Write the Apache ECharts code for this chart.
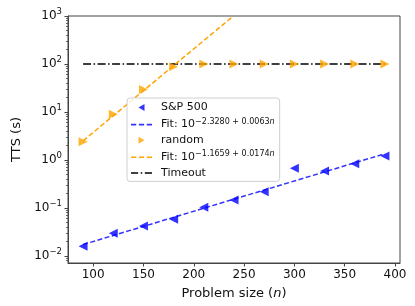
<!DOCTYPE html>
<html>
<head>
<meta charset="utf-8">
<script src="https://cdn.jsdelivr.net/npm/echarts@6/dist/echarts.min.js"></script>
<style>
html,body{margin:0;padding:0;background:#fff;}
#chart{width:415px;height:306px;}
</style>
</head>
<body>
<div id="chart"></div>
<script>
// ---- data ----
const problemSizes = [90, 120, 150, 180, 210, 240, 270, 300, 330, 360, 390];
const sp500TTS = [0.016, 0.0297, 0.042, 0.058, 0.103, 0.147, 0.219, 0.67, 0.59, 0.83, 1.21];
const randomTTS = [2.4, 9.0, 29.5, 88, 100, 100, 100, 100, 100, 100, 100];
const sp500FitN = [90, 390];
const sp500FitTTS = [0.0173, 1.35];
const randomFitN = [90, 239.4];
const randomFitTTS = [2.51, 1000];
const timeoutN = [90, 390];
const timeoutTTS = [100, 100];
const xTicks = [100, 150, 200, 250, 300, 350, 400];
const yTickExps = [-2, -1, 0, 1, 2, 3];
const yMinVal = 0.00714, yMaxVal = 1000;

const lg = v => Math.log10(v);
const pairs = (xs, ys) => xs.map((x, i) => [x, lg(ys[i])]);

const minorTicks = [];
for (let e = -3; e < 3; e++) {
  for (let k = 2; k <= 9; k++) {
    const v = lg(k) + e;
    if (v >= lg(yMinVal) && v <= lg(yMaxVal)) minorTicks.push(v);
  }
}

const supLabel = v => {
  const e = Math.round(v);
  return '10{sup|' + (e < 0 ? '\u2212' + (-e) : e) + '}';
};

const FONT = 'DejaVu Sans';
const AXC = '#444';

// legend handle shapes
const ICON_LEFT_TRI = 'path://M0,3.5L6,0L6,7Z';
const ICON_RIGHT_TRI = 'path://M6,3.5L0,0L0,7Z';
const ICON_DASH = 'path://M0,0h5v1.5h-5z M7.5,0h5v1.5h-5z M15,0h5v1.5h-5z';
const ICON_DASHDOT = 'path://M0,0h7v1.5h-7z M9.5,0h1.5v1.5h-1.5z M13.5,0h7v1.5h-7z';

const chart = echarts.init(document.getElementById('chart'), null, {renderer: 'canvas'});
chart.setOption({
  animation: false,
  backgroundColor: '#fff',
  textStyle: {fontFamily: FONT},
  grid: {left: 68, right: 15, top: 16, bottom: 43, show: true, borderColor: AXC, borderWidth: 1, backgroundColor: 'transparent'},
  xAxis: {
    type: 'value', min: 75, max: 405,
    name: 'Problem size ({i|n})', nameLocation: 'middle', nameGap: 24,
    nameTextStyle: {fontSize: 13, color: '#111', fontFamily: FONT, rich: {i: {fontStyle: 'italic', fontSize: 13, fontFamily: FONT, color: '#111'}}},
    axisLine: {show: true, onZero: false, lineStyle: {color: AXC, width: 1}},
    axisTick: {show: true, inside: false, length: 3.5, lineStyle: {color: AXC}, customValues: xTicks},
    axisLabel: {fontSize: 12, color: '#111', margin: 6, customValues: xTicks, fontFamily: FONT},
    splitLine: {show: false}
  },
  yAxis: [{
    type: 'value', min: lg(yMinVal), max: lg(yMaxVal),
    name: 'TTS (s)', nameLocation: 'middle', nameGap: 40, nameRotate: 90,
    nameTextStyle: {fontSize: 13, color: '#111', fontFamily: FONT},
    axisLine: {show: true, onZero: false, lineStyle: {color: AXC, width: 1}},
    axisTick: {show: true, inside: false, length: 3.5, lineStyle: {color: AXC}, customValues: yTickExps},
    axisLabel: {
      fontSize: 12, color: '#111', margin: 6, customValues: yTickExps, fontFamily: FONT,
      formatter: supLabel,
      rich: {sup: {fontSize: 8.5, color: '#111', fontFamily: FONT, verticalAlign: 'top', padding: [0, 0, 8, 0]}}
    },
    splitLine: {show: false}
  }, {
    type: 'value', min: lg(yMinVal), max: lg(yMaxVal), position: 'left',
    axisLine: {show: false, onZero: false},
    axisTick: {show: true, inside: false, length: 2, lineStyle: {color: AXC, width: 0.8}, customValues: minorTicks},
    axisLabel: {show: false},
    splitLine: {show: false}
  }],
  legend: {
    orient: 'vertical', left: 127, top: 98,
    backgroundColor: 'rgba(255,255,255,0.8)', borderColor: '#d0d0d0', borderWidth: 1, borderRadius: 3,
    padding: [4, 5, 3, 4], itemGap: 4.6, itemWidth: 21, itemHeight: 7, z: 10,
    symbolRotate: 0,
    textStyle: {fontSize: 11, color: '#111', fontFamily: FONT, padding: [0, 0, 0, 4],
      rich: {
        sup: {fontSize: 8, color: '#111', fontFamily: FONT, verticalAlign: 'top', padding: [0, 0, 6, 0]},
        supi: {fontSize: 8, color: '#111', fontFamily: FONT, fontStyle: 'italic', verticalAlign: 'top', padding: [0, 0, 6, 0]}
      }},
    formatter: name => {
      if (name.startsWith('Fit')) {
        const m = name.match(/10\^(.*)n$/);
        return 'Fit: 10{sup|' + m[1] + '}{supi|n}';
      }
      return name;
    },
    data: [
      {name: 'S&P 500', icon: ICON_LEFT_TRI},
      {name: 'Fit: 10^\u22122.3280 + 0.0063n', icon: ICON_DASH},
      {name: 'random', icon: ICON_RIGHT_TRI},
      {name: 'Fit: 10^\u22121.1659 + 0.0174n', icon: ICON_DASH},
      {name: 'Timeout', icon: ICON_DASHDOT}
    ]
  },
  series: [
    {
      name: 'S&P 500', type: 'scatter', data: pairs(problemSizes, sp500TTS),
      symbol: 'triangle', symbolSize: 9, symbolRotate: 90,
      itemStyle: {color: '#0000ff'}, z: 5
    },
    {
      name: 'Fit: 10^\u22122.3280 + 0.0063n', type: 'line', data: pairs(sp500FitN, sp500FitTTS),
      showSymbol: false, symbol: 'none',
      lineStyle: {color: '#3333ff', width: 1.5, type: [5, 2.5]}, itemStyle: {color: '#3333ff'}, z: 3
    },
    {
      name: 'random', type: 'scatter', data: pairs(problemSizes, randomTTS),
      symbol: 'triangle', symbolSize: 9, symbolRotate: -90,
      itemStyle: {color: '#ffa500'}, z: 5
    },
    {
      name: 'Fit: 10^\u22121.1659 + 0.0174n', type: 'line', data: pairs(randomFitN, randomFitTTS),
      showSymbol: false, symbol: 'none', clip: true,
      lineStyle: {color: '#ffa500', width: 1.5, type: [5, 2.5]}, itemStyle: {color: '#ffa500'}, z: 3
    },
    {
      name: 'Timeout', type: 'line', data: pairs(timeoutN, timeoutTTS),
      showSymbol: false, symbol: 'none',
      lineStyle: {color: '#000', width: 1.5, type: [8, 2.5, 1.5, 2.5]}, itemStyle: {color: '#000'}, z: 2
    }
  ]
});
</script>
</body>
</html>
